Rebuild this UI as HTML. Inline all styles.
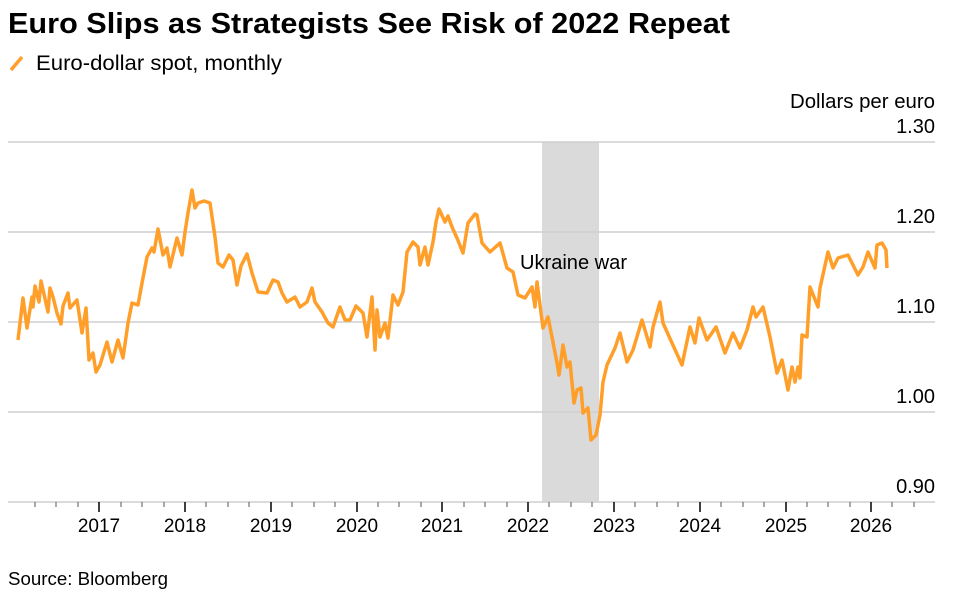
<!DOCTYPE html>
<html><head><meta charset="utf-8"><style>
body{margin:0;background:#fff;width:954px;height:594px;overflow:hidden;font-family:"Liberation Sans",sans-serif}
</style></head><body>
<svg width="954" height="594" xmlns="http://www.w3.org/2000/svg" font-family="Liberation Sans, sans-serif">
<text x="8" y="33" font-size="29" font-weight="bold" fill="#000" textLength="722" lengthAdjust="spacingAndGlyphs">Euro Slips as Strategists See Risk of 2022 Repeat</text>
<line x1="11" y1="70" x2="22" y2="57" stroke="#ff9f2a" stroke-width="3.5"/>
<text x="36" y="70" font-size="21" fill="#000" textLength="246" lengthAdjust="spacingAndGlyphs">Euro-dollar spot, monthly</text>
<text x="935" y="108" font-size="20" fill="#000" text-anchor="end" textLength="145" lengthAdjust="spacingAndGlyphs">Dollars per euro</text>
<rect x="542" y="142" width="57" height="360" fill="#dadada"/>
<g stroke="#cfcfcf" stroke-width="1.5">
<line x1="8" y1="142" x2="935" y2="142"/><line x1="8" y1="232" x2="935" y2="232"/>
<line x1="8" y1="322" x2="935" y2="322"/><line x1="8" y1="412" x2="935" y2="412"/>
<line x1="8" y1="502" x2="935" y2="502"/>
</g>
<g font-size="20" fill="#000" text-anchor="end">
<text x="935" y="133">1.30</text><text x="935" y="223">1.20</text><text x="935" y="313">1.10</text><text x="935" y="403">1.00</text><text x="935" y="493">0.90</text>
</g>
<g stroke="#555" stroke-width="1">
<line x1="35" y1="502" x2="35" y2="507"/><line x1="56" y1="502" x2="56" y2="507"/><line x1="78" y1="502" x2="78" y2="507"/>
<line x1="121" y1="502" x2="121" y2="507"/><line x1="142" y1="502" x2="142" y2="507"/><line x1="164" y1="502" x2="164" y2="507"/>
<line x1="206" y1="502" x2="206" y2="507"/><line x1="228" y1="502" x2="228" y2="507"/><line x1="249" y1="502" x2="249" y2="507"/>
<line x1="292" y1="502" x2="292" y2="507"/><line x1="314" y1="502" x2="314" y2="507"/><line x1="335" y1="502" x2="335" y2="507"/>
<line x1="378" y1="502" x2="378" y2="507"/><line x1="399" y1="502" x2="399" y2="507"/><line x1="421" y1="502" x2="421" y2="507"/>
<line x1="464" y1="502" x2="464" y2="507"/><line x1="485" y1="502" x2="485" y2="507"/><line x1="507" y1="502" x2="507" y2="507"/>
<line x1="549" y1="502" x2="549" y2="507"/><line x1="571" y1="502" x2="571" y2="507"/><line x1="592" y1="502" x2="592" y2="507"/>
<line x1="635" y1="502" x2="635" y2="507"/><line x1="657" y1="502" x2="657" y2="507"/><line x1="678" y1="502" x2="678" y2="507"/>
<line x1="721" y1="502" x2="721" y2="507"/><line x1="743" y1="502" x2="743" y2="507"/><line x1="764" y1="502" x2="764" y2="507"/>
<line x1="807" y1="502" x2="807" y2="507"/><line x1="828" y1="502" x2="828" y2="507"/><line x1="850" y1="502" x2="850" y2="507"/>
<line x1="892" y1="502" x2="892" y2="507"/><line x1="914" y1="502" x2="914" y2="507"/>
</g>
<g stroke="#000" stroke-width="1.5">
<line x1="99" y1="502" x2="99" y2="512"/><line x1="185" y1="502" x2="185" y2="512"/><line x1="271" y1="502" x2="271" y2="512"/>
<line x1="357" y1="502" x2="357" y2="512"/><line x1="442" y1="502" x2="442" y2="512"/><line x1="528" y1="502" x2="528" y2="512"/>
<line x1="614" y1="502" x2="614" y2="512"/><line x1="700" y1="502" x2="700" y2="512"/><line x1="786" y1="502" x2="786" y2="512"/>
<line x1="871" y1="502" x2="871" y2="512"/>
</g>
<g font-size="19" fill="#000" text-anchor="middle">
<text x="99" y="532">2017</text><text x="185" y="532">2018</text><text x="271" y="532">2019</text><text x="357" y="532">2020</text><text x="442" y="532">2021</text><text x="528" y="532">2022</text><text x="614" y="532">2023</text><text x="700" y="532">2024</text><text x="786" y="532">2025</text><text x="871" y="532">2026</text>
</g>
<text x="520" y="269" font-size="20" fill="#000" textLength="107" lengthAdjust="spacingAndGlyphs">Ukraine war</text>
<polyline fill="none" stroke="#ff9f2a" stroke-width="3.5" stroke-linejoin="round" points="18,340 23,298 27,328 32,297 33,307 35,286 39,302 41,281 48,312 50,288 53,297 57,313 61,324 63,306 68,293 70,308 77,300 82,333 86,308 89,360 93,353 96,372 100,365 107,342 112,362 118,340 123,358 128,323 132,303 138,305 142,283 147,257 152,248 154,252 158,229 163,255 167,248 170,267 177,238 182,255 185,232 188,213 192,190 195,208 198,203 204,201 210,203 215,237 218,263 223,267 229,255 233,260 237,285 241,266 247,254 252,273 258,292 267,293 273,280 278,282 282,293 287,302 295,297 300,307 307,302 312,288 315,302 322,312 328,323 333,327 340,307 345,320 350,320 356,306 363,313 367,337 372,297 375,350 377,310 380,337 385,323 388,338 393,295 398,305 403,292 407,252 413,242 418,247 420,265 425,247 428,265 433,242 436,222 439,209 445,222 448,216 452,227 457,238 463,253 468,223 475,214 477,215 482,243 490,252 500,243 507,268 513,272 518,295 525,298 532,287 535,307 537,282 543,328 548,317 552,337 557,363 559,375 563,345 567,367 570,362 574,403 577,390 581,388 583,413 588,408 591,440 596,435 600,415 603,382 607,365 615,348 620,333 627,362 633,350 642,320 650,347 653,327 660,302 663,323 672,343 682,365 690,327 695,343 699,318 707,340 716,327 725,353 733,333 740,348 747,330 753,307 756,317 763,307 770,337 777,373 782,360 788,390 792,367 795,382 798,367 800,378 802,335 807,337 810,287 818,307 820,288 828,252 833,268 838,258 848,255 858,275 863,267 868,252 875,268 877,245 882,243 886,250 887,268"/>
<text x="8" y="585" font-size="18" fill="#000" textLength="160" lengthAdjust="spacingAndGlyphs">Source: Bloomberg</text>
</svg>
</body></html>
